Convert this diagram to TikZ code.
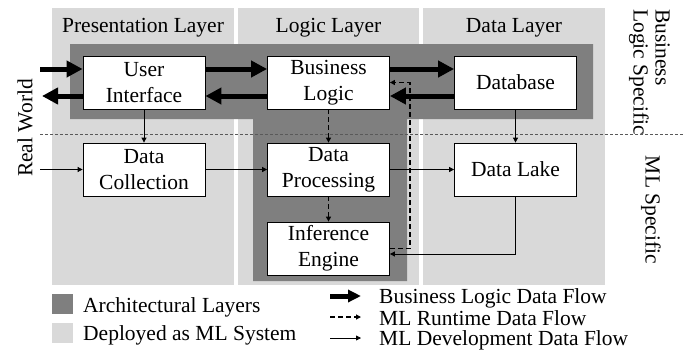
\documentclass[tikz,border=0pt]{standalone}
\usepackage{fontspec}
\setmainfont{Liberation Serif}
\usetikzlibrary{calc, arrows.meta}

\definecolor{archgray}{HTML}{7F7F7F}
\definecolor{mlgray}{HTML}{D9D9D9}
\definecolor{sepgray}{HTML}{595959}

\begin{document}
\begin{tikzpicture}[x=1pt, y=-1pt,
		font=\fontsize{21.5}{26}\selectfont,
		comp/.style = {draw, fill = white, line width = 0.8pt, align = center, minimum width = 122pt, minimum height = 53pt, inner sep = 0pt},
		blflow/.style = {line width = 5pt, -{Triangle[length = 16pt, width = 16pt]}},
		mlrun/.style = {line width = 1.2pt, dash pattern = on 5pt off 3pt, -{Triangle[length = 5pt, width = 5pt]}},
		mldev/.style = {line width = 0.8pt, -{Triangle[length = 5pt, width = 5pt]}},
		label/.style = {inner sep = 0pt}]
		\def\w{122};
		\def\off{13.5};

		\useasboundingbox (0,0) rectangle (693,354);

		% deployed as ML system (columns)
		\fill [mlgray] (52,8) rectangle (234,285);
		\fill [mlgray] (238,8) rectangle (419,285);
		\fill [mlgray] (423,8) rectangle (605,285);

		% architectural layers
		\fill [archgray] (70,44) -- (593,44) -- (593,119) -- (407,119) -- (407,281) -- (253,281) -- (253,119) -- (70,119) -- cycle;

		\node [label] (pres title) at (143,28) {Presentation Layer};
		\node [label] (logic title) at (328.5,28) {Logic Layer};
		\node [label] (data title) at (514,28) {Data Layer};

		% separator
		\coordinate (sep left) at (40,134);
		\coordinate (sep right) at (683,134);
		\draw [sepgray, line width = 1pt, dash pattern = on 3pt off 2pt] (sep left) -- (sep right);

		\node [label, rotate = 90] (real world) at (25,128) {Real World};
		\node [label, rotate = -90, align = left, anchor = north west, font = \fontsize{21.5}{22}\selectfont] (bl specific) at (670,9) {Business\\Logic Specific};
		\node [label, rotate = -90] (ml specific) at (651,210) {ML Specific};

		% components
		\node [comp] (ui) at (144,82.5) {User\\Interface};
		\node [comp] (bl) at (328.5,82.5) {Business\\Logic};
		\node [comp] (db) at (515.5,82.5) {Database};
		\node [comp] (dc) at (144,169.5) {Data\\Collection};
		\node [comp] (dp) at (328.5,169.5) {Data\\Processing};
		\node [comp] (dl) at (515.5,169.5) {Data Lake};
		\node [comp] (ie) at (328.5,248.5) {Inference\\Engine};

		% business logic data flow
		\coordinate (world in) at (40,69);
		\coordinate (world out) at (42,96);
		\draw [blflow] (world in) -- ([yshift = \off pt] ui.west);
		\draw [blflow] ([yshift = -\off pt] ui.west) -- (world out);
		\draw [blflow] ([yshift = \off pt] ui.east) -- ([yshift = \off pt] bl.west);
		\draw [blflow] ([yshift = -\off pt] bl.west) -- ([yshift = -\off pt] ui.east);
		\draw [blflow] ([yshift = \off pt] bl.east) -- ([yshift = \off pt] db.west);
		\draw [blflow] ([yshift = -\off pt] db.west) -- ([yshift = -\off pt] bl.east);

		% ML runtime data flow
		\coordinate (runtime back) at (410,82.5);
		\draw [mlrun] (bl.south) -- (dp.north);
		\draw [mlrun] (dp.south) -- (ie.north);
		\draw [mlrun] (ie.east) -| (runtime back) -- (bl.east);

		% ML development data flow
		\coordinate (world data) at (40,169.5);
		\draw [mldev] (ui.south) -- (dc.north);
		\draw [mldev] (db.south) -- (dl.north);
		\draw [mldev] (world data) -- (dc.west);
		\draw [mldev] (dc.east) -- (dp.west);
		\draw [mldev] (dp.east) -- (dl.west);
		\draw [mldev] (dl.south) |- ([yshift = -5.5pt] ie.east);

		% legend
		\fill [archgray] (52,294) rectangle (73,314);
		\fill [mlgray] (52,323) rectangle (73,343);
		\node [label, anchor = west] (arch key) at (83,307) {Architectural Layers};
		\node [label, anchor = west] (ml key) at (83,335) {Deployed as ML System};

		\coordinate (bl key start) at (330,296);
		\coordinate (bl key end) at (361,296);
		\coordinate (run key start) at (330,317);
		\coordinate (run key end) at (361,317);
		\coordinate (dev key start) at (330,338);
		\coordinate (dev key end) at (361,338);
		\draw [line width = 5pt, -{Triangle[length = 13pt, width = 12pt]}] (bl key start) -- (bl key end);
		\draw [mlrun] (run key start) -- (run key end);
		\draw [mldev] (dev key start) -- (dev key end);
		\node [label, anchor = west] (bl key) at (379,298) {Business Logic Data Flow};
		\node [label, anchor = west] (run key) at (379,318) {ML Runtime Data Flow};
		\node [label, anchor = west] (dev key) at (379,340) {ML Development Data Flow};
	\end{tikzpicture}
\end{document}
